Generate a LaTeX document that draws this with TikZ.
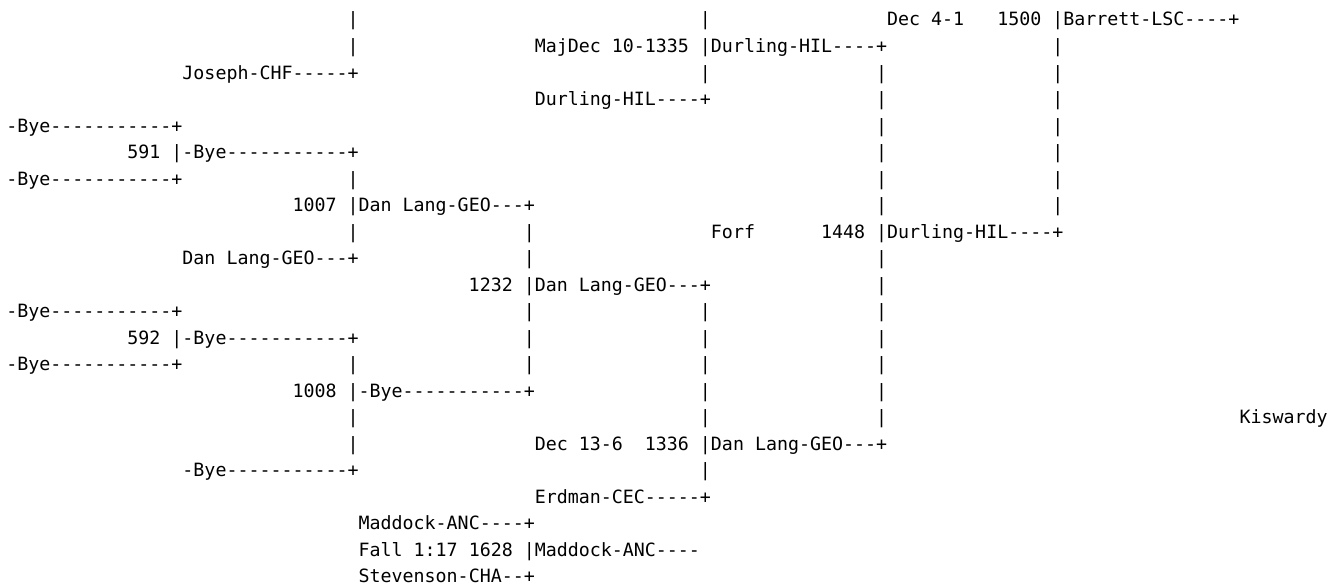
\documentclass[tikz,border=0pt]{standalone}
\usepackage{fontspec}
\newfontfamily\bracketfont[Ligatures=TeXOff]{DejaVu Sans Mono}
\usepackage{tikz}

\tikzset{
    cell/.style={anchor=base west, inner sep=0pt, outer sep=0pt,
        font=\bracketfont\fontsize{18.29pt}{26.5pt}\selectfont}
}

\begin{document}
\begin{tikzpicture}[x=11.01pt, y=-26.5pt]
    % page frame (one unit = one column, one row)
    \useasboundingbox[fill=white] (-0.572, 0.019) rectangle (121.31, 22.17);

    % draw bracket bars
    \foreach \c/\r in {31/1, 63/1,
                       31/2, 95/2,
                       63/3, 79/3, 95/3,
                       79/4, 95/4,
                       79/5, 95/5,
                       79/6, 95/6,
                       31/7, 79/7, 95/7,
                       79/8, 95/8,
                       31/9, 47/9,
                       47/10, 79/10,
                       79/11,
                       47/12, 63/12, 79/12,
                       47/13, 63/13, 79/13,
                       31/14, 47/14, 63/14, 79/14,
                       63/15, 79/15,
                       31/16, 63/16, 79/16,
                       31/17,
                       63/18}
        \node[cell] (bar-\c-\r) at (\c, \r) {|};

    % first round
    \node[cell] (bye5)  at (0, 5)  {-Bye-----------+};
    \node[cell] (bye7)  at (0, 7)  {-Bye-----------+};
    \node[cell] (bye12) at (0, 12) {-Bye-----------+};
    \node[cell] (bye14) at (0, 14) {-Bye-----------+};
    \node[cell] (m591)  at (11, 6)  {591};
    \node[cell] (w591)  at (15, 6)  {|-Bye-----------+};
    \node[cell] (m592)  at (11, 13) {592};
    \node[cell] (w592)  at (15, 13) {|-Bye-----------+};

    % second round
    \node[cell] (joseph)  at (16, 3)  {Joseph-CHF-----+};
    \node[cell] (lang10)  at (16, 10) {Dan Lang-GEO---+};
    \node[cell] (bye18)   at (16, 18) {-Bye-----------+};
    \node[cell] (m1007)   at (26, 8)  {1007};
    \node[cell] (w1007)   at (31, 8)  {|Dan Lang-GEO---+};
    \node[cell] (m1008)   at (26, 15) {1008};
    \node[cell] (w1008)   at (31, 15) {|-Bye-----------+};

    % third round
    \node[cell] (m1232)   at (42, 11) {1232};
    \node[cell] (w1232)   at (47, 11) {|Dan Lang-GEO---+};
    \node[cell] (durl4)   at (48, 4)  {Durling-HIL----+};
    \node[cell] (d1335)   at (48, 2)  {MajDec 10-1335};
    \node[cell] (w1335)   at (63, 2)  {|Durling-HIL----+};
    \node[cell] (d1336)   at (48, 17) {Dec 13-6};
    \node[cell] (m1336)   at (58, 17) {1336};
    \node[cell] (w1336)   at (63, 17) {|Dan Lang-GEO---+};
    \node[cell] (erdman)  at (48, 19) {Erdman-CEC-----+};

    % fourth round and final
    \node[cell] (forf)    at (64, 9)  {Forf};
    \node[cell] (m1448)   at (74, 9)  {1448};
    \node[cell] (w1448)   at (79, 9)  {|Durling-HIL----+};
    \node[cell] (d1500)   at (80, 1)  {Dec 4-1};
    \node[cell] (m1500)   at (90, 1)  {1500};
    \node[cell] (w1500)   at (95, 1)  {|Barrett-LSC----+};
    \node[cell] (kiswardy) at (112, 16) {Kiswardy};

    % third place
    \node[cell] (madd20)  at (32, 20) {Maddock-ANC----+};
    \node[cell] (d1628)   at (32, 21) {Fall 1:17 1628};
    \node[cell] (w1628)   at (47, 21) {|Maddock-ANC----};
    \node[cell] (steven)  at (32, 22) {Stevenson-CHA--+};
\end{tikzpicture}
\end{document}
